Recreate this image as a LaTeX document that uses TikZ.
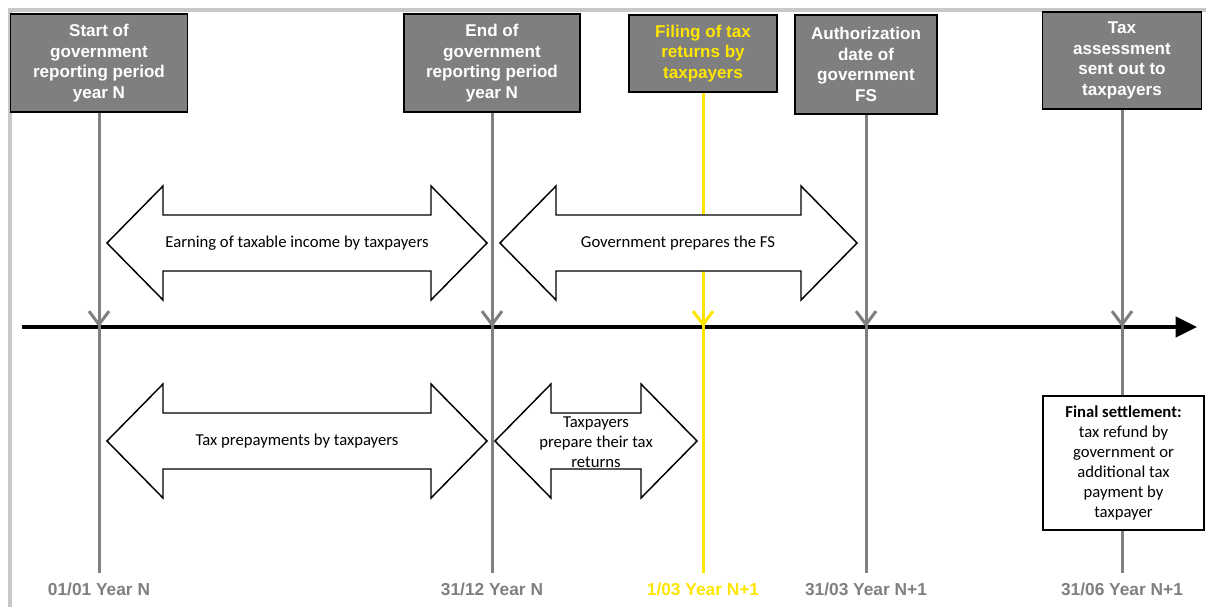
\documentclass[tikz,border=0pt]{standalone}
\usepackage{fontspec}
\setmainfont{Liberation Sans}
\newfontfamily\calibri{Carlito}
\usetikzlibrary{arrows.meta}

\definecolor{boxgray}{RGB}{127,127,127}
\definecolor{framegray}{RGB}{200,200,200}
\definecolor{filingyellow}{RGB}{255,230,0}

\tikzset{
  event/.style={draw=black,line width=1.2pt,fill=boxgray,text=white,inner sep=0pt,
    align=center,font=\fontsize{12.8}{15.5}\selectfont\bfseries},
  date/.style={text=boxgray,inner sep=0pt,font=\fontsize{13}{15}\selectfont\bfseries},
  timeline/.style={draw=boxgray,line width=2.25pt},
  marker/.style={timeline,-{Straight Barb[length=10pt,width=15pt]}},
  twoway/.style={draw=black,line width=1.1pt,fill=white},
  note/.style={align=center,font=\calibri\fontsize{12.5}{15}\selectfont}
}

% double arrow: left tip x, right tip x, centre y
\newcommand{\dblarrow}[3]{%
  \draw[twoway] (#1,#3) -- (#1+56,#3-57) -- (#1+56,#3-28) -- (#2-56,#3-28)
    -- (#2-56,#3-57) -- (#2,#3) -- (#2-56,#3+57) -- (#2-56,#3+28)
    -- (#1+56,#3+28) -- (#1+56,#3+57) -- cycle;}

\begin{document}
\begin{tikzpicture}[x=0.75pt,y=-0.75pt]
  \useasboundingbox (0,0) rectangle (1206,607);

  % frame
  \draw[framegray,line width=3pt] (9.5,607) -- (9.5,9.5) -- (1206,9.5);

  % time axis
  \coordinate (axL) at (22,327);
  \coordinate (axR) at (1197,327);
  \draw[line width=3pt,-{Triangle[length=16pt,width=15pt]}] (axL) -- (axR);

  % events
  \node[event,minimum width=132.75pt,minimum height=73.5pt] (start) at (99,63)
    {Start of\\government\\reporting period\\year N};
  \node[event,minimum width=132pt,minimum height=73.5pt] (end) at (492,63)
    {End of\\government\\reporting period\\year N};
  \node[event,text=filingyellow,minimum width=111pt,minimum height=57.75pt] (filing) at (703,53.5)
    {Filing of tax\\returns by\\taxpayers};
  \node[event,minimum width=106.5pt,minimum height=74.25pt] (auth) at (866,64.5)
    {Authorization\\date of\\government\\FS};
  \node[event,minimum width=119.25pt,minimum height=72.75pt] (assess) at (1122,60.5)
    {Tax\\assessment\\sent out to\\taxpayers};

  % dates
  \node[date] (d1) at (99,589) {01/01 Year N};
  \node[date] (d2) at (492,589) {31/12 Year N};
  \node[date,text=filingyellow] (d3) at (703,589) {1/03 Year N+1};
  \node[date] (d4) at (866,589) {31/03 Year N+1};
  \node[date] (d5) at (1122,589) {31/06 Year N+1};

  % ticks
  \foreach \ev/\dt in {start/d1,end/d2,auth/d4,assess/d5}{
    \draw[timeline,shorten >=7pt] (\ev.south) -- (\dt.north);
    \draw[marker] (\ev.south) -- (\ev.south |- axL);
  }
  \draw[timeline,draw=filingyellow,shorten >=7pt] (filing.south) -- (d3.north);
  \draw[marker,draw=filingyellow] (filing.south) -- (filing.south |- axL);

  % periods
  \dblarrow{107}{487}{243}
  \dblarrow{500}{857}{243}
  \dblarrow{107}{487}{441}
  \dblarrow{495}{697}{441}
  \node[note] (earn) at (297,243) {Earning of taxable income by taxpayers};
  \node[note] (govfs) at (678,243) {Government prepares the FS};
  \node[note] (prepay) at (297,441) {Tax prepayments by taxpayers};
  \node[note] (prepare) at (596,442) {Taxpayers\\prepare their tax\\returns};

  % settlement
  \node[note,draw=black,line width=1.1pt,fill=white,minimum width=120.75pt,minimum height=100.5pt,inner sep=0pt]
    (settle) at (1123.5,463)
    {\bfseries Final settlement:\\tax refund by\\government or\\additional tax\\payment by\\taxpayer};
\end{tikzpicture}
\end{document}
